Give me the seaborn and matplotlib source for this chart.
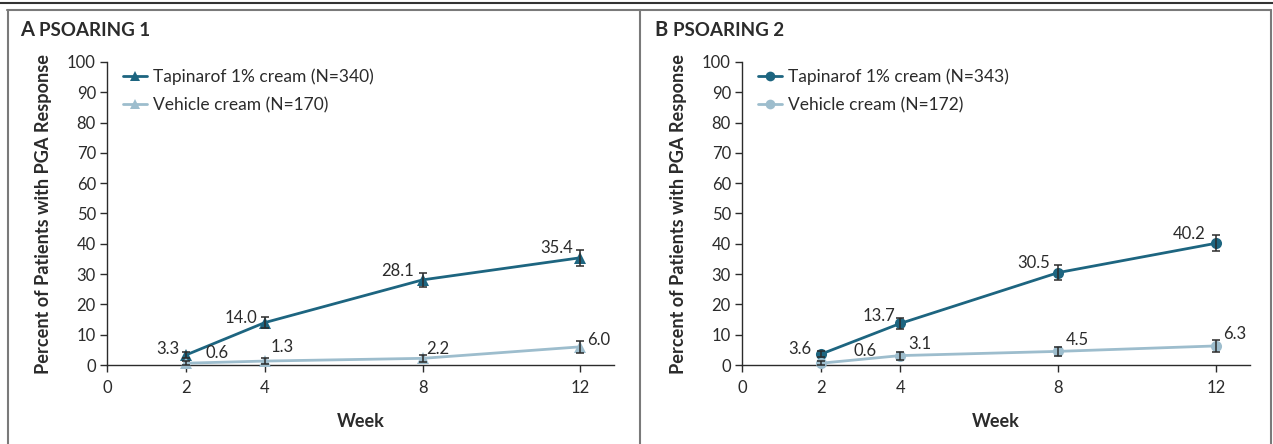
import numpy as np
import pandas as pd
import seaborn as sns
import matplotlib.pyplot as plt
from matplotlib.lines import Line2D

# Data
weeks = [2, 4, 8, 12]

trial1_tap = [3.3, 14.0, 28.1, 35.4]
trial1_tap_err = [1.0, 1.9, 2.4, 2.6]
trial1_veh = [0.6, 1.3, 2.2, 6.0]
trial1_veh_err = [0.6, 0.9, 1.2, 1.9]

trial2_tap = [3.6, 13.7, 30.5, 40.2]
trial2_tap_err = [1.0, 1.9, 2.5, 2.7]
trial2_veh = [0.6, 3.1, 4.5, 6.3]
trial2_veh_err = [0.6, 1.3, 1.6, 1.9]

labels1 = ["Tapinarof 1% cream (N=340)", "Vehicle cream (N=170)"]
labels2 = ["Tapinarof 1% cream (N=343)", "Vehicle cream (N=172)"]

DARK = "#1d6580"
LIGHT = "#9dbdcd"
INK = "#2b2b2b"

sns.set_theme(style="white")
plt.rcParams["font.family"] = ["Lato", "DejaVu Sans"]

W, H = 1273, 444
fig = plt.figure(figsize=(W / 100, H / 100), dpi=100)


def px_box(x0, y0, x1, y1):
    # pixel coords (top-left origin) to figure fraction rect
    return [x0 / W, 1 - y1 / H, (x1 - x0) / W, (y1 - y0) / H]


def draw_panel(ax, tap, tap_err, veh, veh_err, labels, marker, tap_off, veh_off):
    df = pd.DataFrame({
        "week": weeks * 2,
        "pct": tap + veh,
        "arm": [labels[0]] * 4 + [labels[1]] * 4,
    })
    sns.lineplot(data=df, x="week", y="pct", hue="arm", palette=[DARK, LIGHT],
                 marker=marker, markersize=8 if marker == "o" else 8.5,
                 markeredgewidth=0, linewidth=2.0, ax=ax, legend=False,
                 clip_on=False, zorder=3)
    for vals, errs in [(tap, tap_err), (veh, veh_err)]:
        ax.errorbar(weeks, vals, yerr=errs, fmt="none", ecolor=INK,
                    elinewidth=1.1, capsize=3.2, capthick=1.1, zorder=4, clip_on=False)

    for w, v, off in zip(weeks, tap, tap_off):
        ax.annotate(f"{v:.1f}", (w, v), xytext=off, textcoords="offset pixels",
                    ha="right", va="center", fontsize=12, color=INK)
    for w, v, off in zip(weeks, veh, veh_off):
        ax.annotate(f"{v:.1f}", (w, v), xytext=off, textcoords="offset pixels",
                    ha="left", va="center", fontsize=12, color=INK)

    ax.set_xlim(0, 12.85)
    ax.set_ylim(0, 100)
    ax.set_xticks([0, 2, 4, 8, 12])
    ax.set_yticks(np.arange(0, 101, 10))
    ax.tick_params(axis="both", direction="out", length=5, width=1, color=INK,
                   labelsize=12, labelcolor=INK, pad=3, left=True, bottom=True)
    ax.tick_params(axis="x", pad=6)
    for s in ["top", "right"]:
        ax.spines[s].set_visible(False)
    for s in ["left", "bottom"]:
        ax.spines[s].set_color(INK)
        ax.spines[s].set_linewidth(1)
    ax.set_xlabel("Week", fontsize=13, fontweight="bold", color=INK, labelpad=12)
    ax.set_ylabel("Percent of Patients with PGA Response", fontsize=13.1,
                  fontweight="bold", color=INK, labelpad=11)

    handles = [Line2D([], [], color=c, marker=marker, markersize=7, markeredgewidth=0,
                      linewidth=2.0) for c in (DARK, LIGHT)]
    ax.legend(handles, labels, loc="upper left", bbox_to_anchor=(0.0, 1.03),
              frameon=False, fontsize=12.5, handlelength=1.4, handletextpad=0.35,
              labelspacing=0.7, labelcolor=INK)


axA = fig.add_axes(px_box(107, 62, 614, 365))
draw_panel(axA, trial1_tap, trial1_tap_err, trial1_veh, trial1_veh_err, labels1, "^",
           tap_off=[(-7, 6), (-7, 5), (-9, 9), (-7, 10)],
           veh_off=[(20, 10), (6, 14), (4, 9), (7, 7)])

axB = fig.add_axes(px_box(742, 62, 1250, 365))
draw_panel(axB, trial2_tap, trial2_tap_err, trial2_veh, trial2_veh_err, labels2, "o",
           tap_off=[(-10, 5), (-5, 7), (-8, 10), (-11, 9)],
           veh_off=[(32, 12), (8, 12), (8, 11), (7, 12)])

# Panel titles
for x, letter, title in [(20, "A", "PSOARING 1"), (654, "B", "PSOARING 2")]:
    fig.text(x / W, 1 - 30 / H, letter, fontsize=14.5, fontweight="bold", color=INK, va="center")
    fig.text((x + 19) / W, 1 - 31 / H, title, fontsize=13.5, fontweight="bold", color=INK, va="center")

# Frame lines around the panels
fig.add_artist(Line2D([0, 1], [1 - 3.5 / H] * 2, transform=fig.transFigure, color="#333333", lw=1.5))
fig.add_artist(Line2D([7 / W, 1270.5 / W], [1 - 10.5 / H] * 2, transform=fig.transFigure, color="#7a7a7a", lw=1.5))
for xp in (7.5, 640, 1270.5):
    fig.add_artist(Line2D([xp / W] * 2, [0, 1 - 10.5 / H], transform=fig.transFigure, color="#7a7a7a", lw=1.5))

fig.savefig("out.png", dpi=100)
